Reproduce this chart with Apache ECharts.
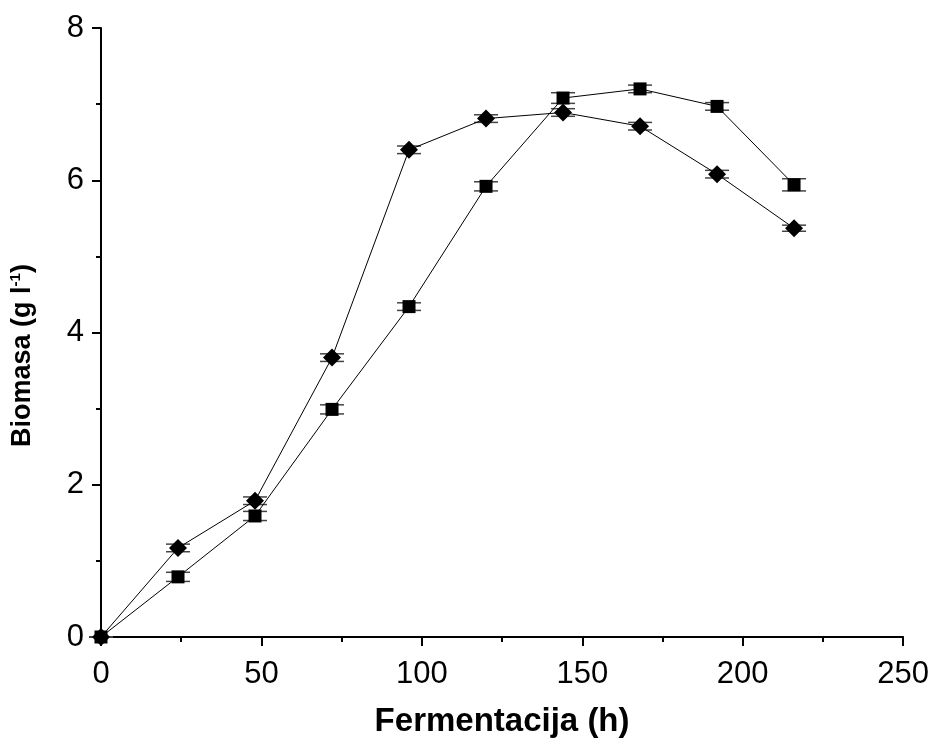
<!DOCTYPE html>
<html>
<head>
<meta charset="utf-8">
<script src="https://cdn.jsdelivr.net/npm/echarts@6/dist/echarts.min.js"></script>
<style>
  html, body { margin: 0; padding: 0; background: #fff; }
  #chart { width: 932px; height: 745px; }
</style>
</head>
<body>
<div id="chart"></div>
<script>
var hours = [0, 24, 48, 72, 96, 120, 144, 168, 192, 216];
var diamondVals = [0, 1.17, 1.79, 3.67, 6.40, 6.81, 6.89, 6.71, 6.08, 5.37];
var diamondErr = [0, 0.05, 0.05, 0.05, 0.05, 0.05, 0.05, 0.05, 0.05, 0.04];
var squareVals = [0, 0.79, 1.59, 2.99, 4.34, 5.92, 7.08, 7.20, 6.97, 5.94];
var squareErr = [0, 0.06, 0.06, 0.06, 0.05, 0.06, 0.07, 0.05, 0.05, 0.08];

function pairs(xs, ys) {
    return xs.map(function (x, i) { return [x, ys[i]]; });
}
function errData(xs, ys, es) {
    return xs.map(function (x, i) { return [x, ys[i] - es[i], ys[i] + es[i]]; });
}

function renderErr(params, api) {
    var lo = api.coord([api.value(0), api.value(1)]);
    var hi = api.coord([api.value(0), api.value(2)]);
    var w = 12;
    var st = { stroke: '#444', lineWidth: 1.5 };
    return {
        type: 'group',
        children: [
            { type: 'line', shape: { x1: lo[0], y1: lo[1], x2: hi[0], y2: hi[1] }, style: st },
            { type: 'line', shape: { x1: lo[0] - w, y1: lo[1], x2: lo[0] + w, y2: lo[1] }, style: st },
            { type: 'line', shape: { x1: hi[0] - w, y1: hi[1], x2: hi[0] + w, y2: hi[1] }, style: st }
        ]
    };
}

var chart = echarts.init(document.getElementById('chart'));
var font = 'Liberation Sans, Arial, sans-serif';

chart.setOption({
    animation: false,
    grid: { left: 99, right: 27, top: 28, bottom: 108, containLabel: false },
    xAxis: {
        type: 'value',
        min: 0, max: 250, interval: 50,
        name: 'Fermentacija (h)',
        nameLocation: 'middle',
        nameGap: 68,
        nameTextStyle: { fontFamily: font, fontSize: 33, fontWeight: 'bold', color: '#000' },
        axisLine: { show: true, onZero: false, lineStyle: { color: '#000', width: 2 } },
        axisTick: { show: true, inside: false, length: 9, lineStyle: { color: '#000', width: 2 } },
        minorTick: { show: true, splitNumber: 2, length: 5, lineStyle: { color: '#000', width: 2 } },
        axisLabel: { fontFamily: font, fontSize: 31, color: '#000', margin: 22 },
        splitLine: { show: false }
    },
    yAxis: {
        type: 'value',
        min: 0, max: 8, interval: 2,
        name: 'Biomasa (g l{sup|-1})',
        nameLocation: 'middle',
        nameRotate: 90,
        nameGap: 64,
        nameTextStyle: {
            fontFamily: font, fontSize: 27, fontWeight: 'bold', color: '#000',
            padding: [0, 46, 0, 0],
            rich: { sup: { fontFamily: font, fontSize: 15, fontWeight: 'bold', color: '#000', padding: [0, 0, 14, 0] } }
        },
        axisLine: { show: true, onZero: false, lineStyle: { color: '#000', width: 2 } },
        axisTick: { show: true, inside: false, length: 9, lineStyle: { color: '#000', width: 2 } },
        minorTick: { show: true, splitNumber: 2, length: 5, lineStyle: { color: '#000', width: 2 } },
        axisLabel: { fontFamily: font, fontSize: 31, color: '#000', margin: 17 },
        splitLine: { show: false }
    },
    series: [
        {
            type: 'custom',
            renderItem: renderErr,
            data: errData(hours, squareVals, squareErr),
            encode: { x: 0, y: [1, 2] },
            z: 1
        },
        {
            type: 'custom',
            renderItem: renderErr,
            data: errData(hours, diamondVals, diamondErr),
            encode: { x: 0, y: [1, 2] },
            z: 1
        },
        {
            name: 'square',
            type: 'line',
            data: pairs(hours, squareVals),
            symbol: 'rect',
            symbolSize: 13,
            itemStyle: { color: '#000' },
            lineStyle: { color: '#000', width: 1 },
            z: 3
        },
        {
            name: 'diamond',
            type: 'line',
            data: pairs(hours, diamondVals),
            symbol: 'diamond',
            symbolSize: [18, 18],
            itemStyle: { color: '#000' },
            lineStyle: { color: '#000', width: 1 },
            z: 4
        }
    ]
});
</script>
</body>
</html>
